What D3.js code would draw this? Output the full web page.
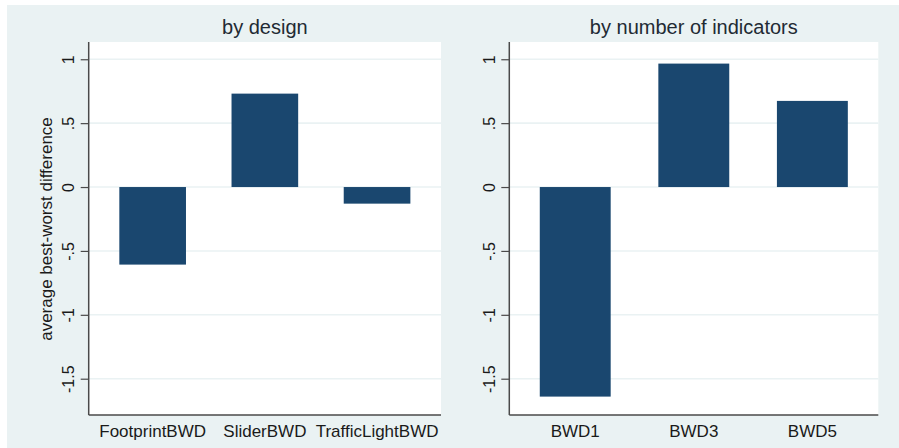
<!DOCTYPE html>
<html>
<head>
<meta charset="utf-8">
<script src="https://cdn.jsdelivr.net/npm/d3@7"></script>
<style>
	body { margin: 0; background: #fff; }
	svg { display: block; font-family: "Liberation Sans", Arial, sans-serif; }
</style>
</head>
<body>
<div id="chart"></div>
<script>
// data
const design_cats = ["FootprintBWD", "SliderBWD", "TrafficLightBWD"];
const design_vals = [-0.607, 0.731, -0.13];
const indicator_cats = ["BWD1", "BWD3", "BWD5"];
const indicator_vals = [-1.64, 0.966, 0.674];
const y_ticks = [-1.5, -1, -0.5, 0, 0.5, 1];
const titles = ["by design", "by number of indicators"];
const y_title = "average best-worst difference";

// =========================================================================

const W = 899, H = 448;
const bg = "#eaf2f3", bar_col = "#1a476f", axis_col = "#4a4a4a", text_col = "#1a1a1a";
const plot_top = 42, plot_bottom = 415;

const svg = d3.select("#chart").append("svg")
	.attr("width", W)
	.attr("height", H);

svg.append("rect")
	.attr("x", 7).attr("y", 5)
	.attr("width", W - 7).attr("height", H - 5)
	.attr("fill", bg);

// stata style labels: plain hyphen, drop the leading zero
const fmt = d => String(d).replace(/^(-?)0\./, "$1.");

function draw_panel(cats, vals, title, x0, x1, p_inner, p_outer, with_ytitle) {
	const y = d3.scaleLinear().domain([-1.784, 1.135]).range([plot_bottom, plot_top]);
	const x = d3.scaleBand().domain(cats).range([x0, x1])
		.paddingInner(p_inner).paddingOuter(p_outer);

	const g = svg.append("g");

	g.append("rect")
		.attr("x", x0).attr("y", plot_top)
		.attr("width", x1 - x0).attr("height", plot_bottom - plot_top)
		.attr("fill", "#fff");

	// gridlines
	g.selectAll("line.grid")
		.data(y_ticks)
		.enter().append("line")
		.attr("class", "grid")
		.attr("x1", x0).attr("x2", x1)
		.attr("y1", d => y(d)).attr("y2", d => y(d))
		.attr("stroke", bg)
		.attr("stroke-width", 1.6);

	g.selectAll("rect.bar")
		.data(cats.map((c, i) => ({c: c, v: vals[i]})))
		.enter().append("rect")
		.attr("class", "bar")
		.attr("x", d => x(d.c))
		.attr("width", x.bandwidth())
		.attr("y", d => y(Math.max(0, d.v)))
		.attr("height", d => Math.abs(y(d.v) - y(0)))
		.attr("fill", bar_col);

	// y axis
	const ya = g.append("g")
		.attr("transform", `translate(${x0},0)`)
		.call(d3.axisLeft(y).tickValues(y_ticks).tickFormat(fmt).tickSizeInner(8).tickSizeOuter(0));
	ya.select(".domain").attr("d", `M0,${plot_top}V${plot_bottom}`).attr("stroke", axis_col).attr("stroke-width", 1.5);
	ya.selectAll(".tick line").attr("stroke", axis_col).attr("stroke-width", 1.2);
	ya.selectAll(".tick text")
		.attr("transform", "rotate(-90)")
		.attr("x", 0).attr("y", -14.5).attr("dy", 0)
		.attr("text-anchor", "middle")
		.attr("font-size", 16)
		.attr("fill", text_col);

	// x axis
	const xa = g.append("g")
		.attr("transform", `translate(0,${plot_bottom})`)
		.call(d3.axisBottom(x).tickSize(0));
	xa.select(".domain").attr("d", `M${x0},0H${x1}`).attr("stroke", axis_col).attr("stroke-width", 1.5);
	xa.selectAll(".tick text")
		.attr("y", 22).attr("dy", 0)
		.attr("font-size", 17)
		.attr("fill", text_col);

	g.append("text")
		.attr("x", (x0 + x1) / 2).attr("y", 34)
		.attr("text-anchor", "middle")
		.attr("font-size", 20)
		.attr("fill", "#222a33")
		.text(title);

	if (with_ytitle) {
		g.append("text")
			.attr("transform", `translate(52,${(plot_top + plot_bottom) / 2 + 0.5}) rotate(-90)`)
			.attr("text-anchor", "middle")
			.attr("font-size", 17)
			.attr("fill", text_col)
			.text(y_title);
	}
}

draw_panel(design_cats, design_vals, titles[0], 88.7, 441, 0.406, 0.273, true);
draw_panel(indicator_cats, indicator_vals, titles[1], 509.3, 878.3, 0.402, 0.257, false);
</script>
</body>
</html>
